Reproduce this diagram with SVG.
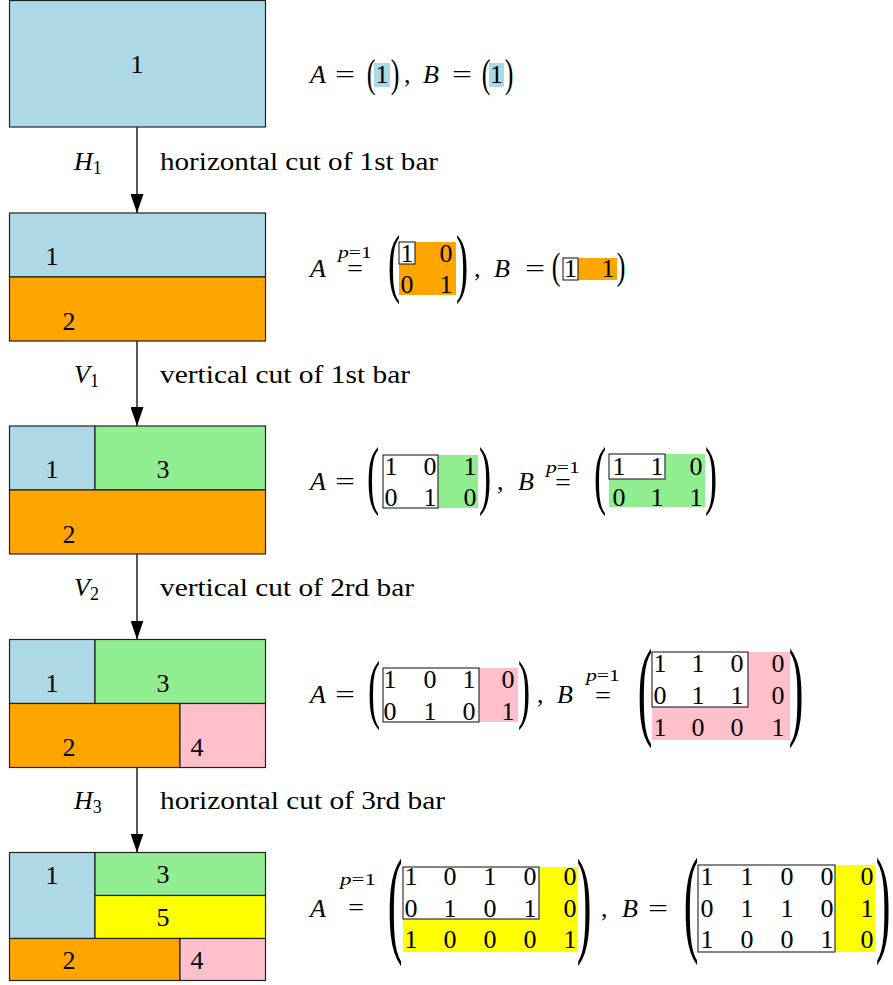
<svg xmlns="http://www.w3.org/2000/svg" width="893" height="985" viewBox="0 0 893 985">
<style>
.t{font-family:"Liberation Serif","Times New Roman",serif;font-size:26px;fill:#000}
.i{font-style:italic}
.m{text-anchor:middle}
.s{font-size:18px}
.sp{font-size:17px}
.cell{stroke:#222;stroke-width:1.2}
.bx{fill:#fff;stroke:#222;stroke-width:1.1}
.conn{stroke:#000;stroke-width:1.3;fill:none}
</style>
<defs>
<marker id="ah" markerUnits="userSpaceOnUse" markerWidth="19" markerHeight="13" refX="19" refY="6.5" orient="auto">
<path d="M0,0 L19,6.5 L0,13 z" fill="#000"/>
</marker>
</defs>

<g id="connectors">
<line class="conn" x1="137" y1="127" x2="137" y2="213" marker-end="url(#ah)"/>
<line class="conn" x1="137" y1="341" x2="137" y2="426" marker-end="url(#ah)"/>
<line class="conn" x1="137" y1="554" x2="137" y2="639.5" marker-end="url(#ah)"/>
<line class="conn" x1="137" y1="767.5" x2="137" y2="852.5" marker-end="url(#ah)"/>
<text class="t i" x="74" y="170">H<tspan class="s" font-style="normal" dy="4">1</tspan></text>
<text class="t" x="160" y="170" textLength="278" lengthAdjust="spacingAndGlyphs">horizontal cut of 1st bar</text>
<text class="t i" x="74" y="383">V<tspan class="s" font-style="normal" dy="4">1</tspan></text>
<text class="t" x="160" y="383" textLength="250" lengthAdjust="spacingAndGlyphs">vertical cut of 1st bar</text>
<text class="t i" x="74" y="596">V<tspan class="s" font-style="normal" dy="4">2</tspan></text>
<text class="t" x="160" y="596" textLength="254" lengthAdjust="spacingAndGlyphs">vertical cut of 2rd bar</text>
<text class="t i" x="74" y="809">H<tspan class="s" font-style="normal" dy="4">3</tspan></text>
<text class="t" x="160" y="809" textLength="285" lengthAdjust="spacingAndGlyphs">horizontal cut of 3rd bar</text>
</g>

<g id="state1">
<rect class="cell" x="9.5" y="0.5" width="256" height="126.5" fill="#ADD8E6"/>
<text class="t m" x="137" y="73">1</text>
</g>

<g id="state2">
<rect class="cell" x="9.5" y="213" width="256" height="64" fill="#ADD8E6"/>
<rect class="cell" x="9.5" y="277" width="256" height="64" fill="#FFA500"/>
<text class="t m" x="52" y="265">1</text>
<text class="t m" x="69" y="330">2</text>
</g>

<g id="state3">
<rect class="cell" x="9.5" y="426" width="85.5" height="64" fill="#ADD8E6"/>
<rect class="cell" x="95" y="426" width="170.5" height="64" fill="#90EE90"/>
<rect class="cell" x="9.5" y="490" width="256" height="64" fill="#FFA500"/>
<text class="t m" x="52" y="478">1</text>
<text class="t m" x="163" y="478">3</text>
<text class="t m" x="69" y="543">2</text>
</g>

<g id="state4">
<rect class="cell" x="9.5" y="639.5" width="85.5" height="64" fill="#ADD8E6"/>
<rect class="cell" x="95" y="639.5" width="170.5" height="64" fill="#90EE90"/>
<rect class="cell" x="9.5" y="703.5" width="170.5" height="64" fill="#FFA500"/>
<rect class="cell" x="180" y="703.5" width="85.5" height="64" fill="#FFC0CB"/>
<text class="t m" x="52" y="692">1</text>
<text class="t m" x="163" y="692">3</text>
<text class="t m" x="69" y="756">2</text>
<text class="t m" x="197" y="756">4</text>
</g>

<g id="state5">
<rect class="cell" x="9.5" y="852.5" width="85.5" height="86" fill="#ADD8E6"/>
<rect class="cell" x="95" y="852.5" width="170.5" height="43" fill="#90EE90"/>
<rect class="cell" x="95" y="895.5" width="170.5" height="43" fill="#FFFF00"/>
<rect class="cell" x="9.5" y="938.5" width="170.5" height="42" fill="#FFA500"/>
<rect class="cell" x="180" y="938.5" width="85.5" height="42" fill="#FFC0CB"/>
<text class="t m" x="52" y="884">1</text>
<text class="t m" x="163" y="883">3</text>
<text class="t m" x="163" y="926">5</text>
<text class="t m" x="69" y="969">2</text>
<text class="t m" x="197" y="969">4</text>
</g>

<g id="eq1">
<text class="t i" x="310" y="83">A</text>
<text class="t" x="335" y="83" textLength="20" lengthAdjust="spacingAndGlyphs">=</text>
<text class="t m" transform="translate(371,77) scale(1,1.5)" y="6.7">(</text>
<rect x="374" y="63" width="16" height="24" fill="#ADD8E6"/>
<text class="t m" x="382" y="83">1</text>
<text class="t m" transform="translate(395,77) scale(1,1.5)" y="6.7">)</text>
<text class="t" x="404" y="83">,</text>
<text class="t i" x="423" y="83">B</text>
<text class="t" x="452" y="83" textLength="20" lengthAdjust="spacingAndGlyphs">=</text>
<text class="t m" transform="translate(486,77) scale(1,1.5)" y="6.7">(</text>
<rect x="489" y="63" width="15" height="24" fill="#ADD8E6"/>
<text class="t m" x="496.5" y="83">1</text>
<text class="t m" transform="translate(509,77) scale(1,1.5)" y="6.7">)</text>
</g>

<g id="eq2">
<text class="t i" x="310" y="277">A</text>
<text class="t sp m" x="355" y="258" textLength="34" lengthAdjust="spacingAndGlyphs"><tspan font-style="italic">p</tspan>=1</text>
<text class="t m" x="355" y="277" textLength="16" lengthAdjust="spacingAndGlyphs">=</text>
<text class="t m" transform="translate(394,269) scale(1.4,2.9)" y="6.7">(</text>
<rect x="399" y="242" width="57" height="53" fill="#FFA500"/>
<rect class="bx" x="399" y="242" width="16" height="22"/>
<text class="t m" x="407" y="262">1</text>
<text class="t m" x="446" y="262">0</text>
<text class="t m" x="407" y="293">0</text>
<text class="t m" x="446" y="293">1</text>
<text class="t m" transform="translate(462,269) scale(1.4,2.9)" y="6.7">)</text>
<text class="t" x="474" y="277">,</text>
<text class="t i" x="494" y="277">B</text>
<text class="t" x="525" y="277" textLength="20" lengthAdjust="spacingAndGlyphs">=</text>
<text class="t m" transform="translate(556,269) scale(1,1.45)" y="6.7">(</text>
<rect x="563" y="258" width="54" height="22" fill="#FFA500"/>
<rect class="bx" x="563" y="258" width="15" height="22"/>
<text class="t m" x="570.5" y="277">1</text>
<text class="t m" x="608" y="277">1</text>
<text class="t m" transform="translate(621,269) scale(1,1.45)" y="6.7">)</text>
</g>

<g id="eq3">
<text class="t i" x="310" y="490">A</text>
<text class="t" x="335" y="490" textLength="20" lengthAdjust="spacingAndGlyphs">=</text>
<text class="t m" transform="translate(373,481) scale(1.4,2.9)" y="6.7">(</text>
<rect x="438" y="455" width="40" height="53" fill="#90EE90"/>
<rect class="bx" x="383" y="455" width="55" height="53"/>
<text class="t m" x="391" y="475">1</text>
<text class="t m" x="430" y="475">0</text>
<text class="t m" x="470" y="475">1</text>
<text class="t m" x="391" y="506">0</text>
<text class="t m" x="430" y="506">1</text>
<text class="t m" x="470" y="506">0</text>
<text class="t m" transform="translate(485,481) scale(1.4,2.9)" y="6.7">)</text>
<text class="t" x="497" y="490">,</text>
<text class="t i" x="518" y="490">B</text>
<text class="t sp m" x="563" y="473" textLength="34" lengthAdjust="spacingAndGlyphs"><tspan font-style="italic">p</tspan>=1</text>
<text class="t m" x="563" y="491" textLength="16" lengthAdjust="spacingAndGlyphs">=</text>
<text class="t m" transform="translate(600,481) scale(1.4,2.9)" y="6.7">(</text>
<rect x="609" y="454" width="96" height="53" fill="#90EE90"/>
<rect class="bx" x="609" y="454" width="56" height="25"/>
<text class="t m" x="619" y="475">1</text>
<text class="t m" x="657" y="475">1</text>
<text class="t m" x="696" y="475">0</text>
<text class="t m" x="619" y="506">0</text>
<text class="t m" x="657" y="506">1</text>
<text class="t m" x="696" y="506">1</text>
<text class="t m" transform="translate(711,481) scale(1.4,2.9)" y="6.7">)</text>
</g>

<g id="eq4">
<text class="t i" x="310" y="703">A</text>
<text class="t" x="335" y="703" textLength="20" lengthAdjust="spacingAndGlyphs">=</text>
<text class="t m" transform="translate(374,695) scale(1.4,2.9)" y="6.7">(</text>
<rect x="479" y="668" width="39" height="54" fill="#FFC0CB"/>
<rect class="bx" x="383" y="668" width="96" height="54"/>
<text class="t m" x="390" y="688">1</text>
<text class="t m" x="430" y="688">0</text>
<text class="t m" x="469" y="688">1</text>
<text class="t m" x="508" y="688">0</text>
<text class="t m" x="390" y="720">0</text>
<text class="t m" x="430" y="720">1</text>
<text class="t m" x="469" y="720">0</text>
<text class="t m" x="508" y="720">1</text>
<text class="t m" transform="translate(524,695) scale(1.4,2.9)" y="6.7">)</text>
<text class="t" x="537" y="703">,</text>
<text class="t i" x="557" y="703">B</text>
<text class="t sp m" x="603" y="681" textLength="34" lengthAdjust="spacingAndGlyphs"><tspan font-style="italic">p</tspan>=1</text>
<text class="t m" x="603" y="704" textLength="16" lengthAdjust="spacingAndGlyphs">=</text>
<text class="t m" transform="translate(645,697) scale(1.7,4.2)" y="6.7">(</text>
<rect x="652" y="652" width="138" height="88" fill="#FFC0CB"/>
<rect class="bx" x="652" y="652" width="96" height="55"/>
<text class="t m" x="660" y="672">1</text>
<text class="t m" x="698" y="672">1</text>
<text class="t m" x="737" y="672">0</text>
<text class="t m" x="778" y="672">0</text>
<text class="t m" x="660" y="704">0</text>
<text class="t m" x="698" y="704">1</text>
<text class="t m" x="737" y="704">1</text>
<text class="t m" x="778" y="704">0</text>
<text class="t m" x="660" y="736">1</text>
<text class="t m" x="698" y="736">0</text>
<text class="t m" x="737" y="736">0</text>
<text class="t m" x="778" y="736">1</text>
<text class="t m" transform="translate(796,697) scale(1.7,4.2)" y="6.7">)</text>
</g>

<g id="eq5">
<text class="t i" x="310" y="917">A</text>
<text class="t sp m" x="358" y="885" textLength="36" lengthAdjust="spacingAndGlyphs"><tspan font-style="italic">p</tspan>=1</text>
<text class="t m" x="356" y="916" textLength="16" lengthAdjust="spacingAndGlyphs">=</text>
<text class="t m" transform="translate(395,910) scale(1.7,4.6)" y="6.7">(</text>
<rect x="403" y="867" width="175" height="85" fill="#FFFF00"/>
<rect class="bx" x="403" y="867" width="136" height="52"/>
<text class="t m" x="411" y="885">1</text>
<text class="t m" x="450" y="885">0</text>
<text class="t m" x="490" y="885">1</text>
<text class="t m" x="530" y="885">0</text>
<text class="t m" x="570" y="885">0</text>
<text class="t m" x="411" y="917">0</text>
<text class="t m" x="450" y="917">1</text>
<text class="t m" x="490" y="917">0</text>
<text class="t m" x="530" y="917">1</text>
<text class="t m" x="570" y="917">0</text>
<text class="t m" x="411" y="948">1</text>
<text class="t m" x="450" y="948">0</text>
<text class="t m" x="490" y="948">0</text>
<text class="t m" x="530" y="948">0</text>
<text class="t m" x="570" y="948">1</text>
<text class="t m" transform="translate(584,910) scale(1.7,4.6)" y="6.7">)</text>
<text class="t" x="601" y="917">,</text>
<text class="t i" x="622" y="917">B</text>
<text class="t" x="648" y="917" textLength="20" lengthAdjust="spacingAndGlyphs">=</text>
<text class="t m" transform="translate(691,909) scale(1.7,4.6)" y="6.7">(</text>
<rect x="835" y="865" width="40" height="87" fill="#FFFF00"/>
<rect class="bx" x="698" y="865" width="137" height="87"/>
<text class="t m" x="707" y="885">1</text>
<text class="t m" x="747" y="885">1</text>
<text class="t m" x="787" y="885">0</text>
<text class="t m" x="827" y="885">0</text>
<text class="t m" x="867" y="885">0</text>
<text class="t m" x="707" y="917">0</text>
<text class="t m" x="747" y="917">1</text>
<text class="t m" x="787" y="917">1</text>
<text class="t m" x="827" y="917">0</text>
<text class="t m" x="867" y="917">1</text>
<text class="t m" x="707" y="948">1</text>
<text class="t m" x="747" y="948">0</text>
<text class="t m" x="787" y="948">0</text>
<text class="t m" x="827" y="948">1</text>
<text class="t m" x="867" y="948">0</text>
<text class="t m" transform="translate(883,909) scale(1.7,4.6)" y="6.7">)</text>
</g>
</svg>
